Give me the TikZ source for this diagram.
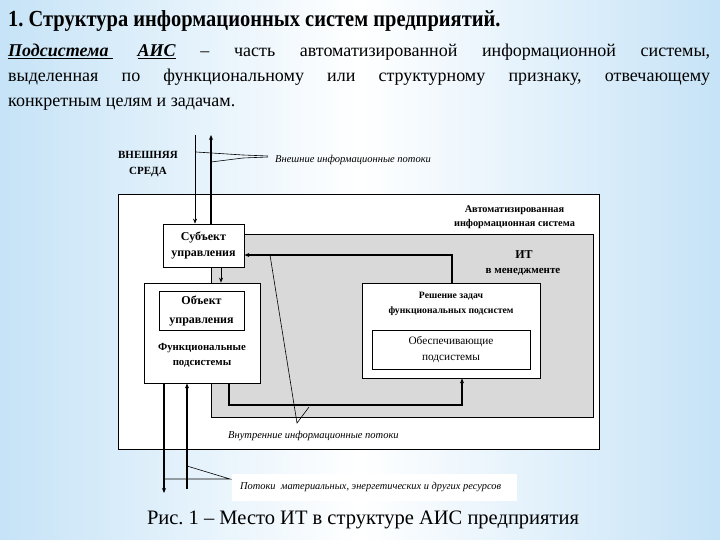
\documentclass[tikz,border=0pt]{standalone}
\usepackage{fontspec}
\usepackage{graphicx}
\setmainfont{Liberation Serif}
\usetikzlibrary{arrows.meta}
\frenchspacing

\definecolor{slideblue}{RGB}{198,227,247}

\begin{document}
\begin{tikzpicture}[
  x=1pt, y=-1pt,
  every node/.style={inner sep=0pt},
  blk/.style={draw, fill=white, line width=0.8pt},
  lbl/.style={font=\bfseries\fontsize{9.7}{15.5}\selectfont, align=center},
  flow/.style={font=\itshape\fontsize{10.5}{12}\selectfont, anchor=west},
  thk/.style={line width=2pt},
  thn/.style={line width=0.6pt},
  >={Stealth[length=5pt,width=4pt]}
]
  \shade[left color=slideblue, right color=slideblue, middle color=white] (0,0) rectangle (720,540);
  \useasboundingbox (0,0) rectangle (720,540);

  % heading and definition
  \node[anchor=west, font=\bfseries\fontsize{23}{26}\selectfont] (title) at (8,21)
    {\scalebox{0.89}[1]{1. Структура информационных систем предприятий.}};
  \node[anchor=north west, text width=702pt, align=justify, font=\fontsize{18}{25}\selectfont] (defn) at (8,44)
    {\underline{\textbf{\textit{Подсистема}}\ }\ \underline{\textbf{\textit{АИС}}} – часть автоматизированной информационной системы,\linebreak
     выделенная по функциональному или структурному признаку, отвечающему\linebreak
     конкретным целям и задачам.};

  % frames
  \node[draw, fill=white, thn, minimum width=481pt, minimum height=255pt] (ais) at (358.5,321.5) {};
  \node[draw, fill=black!15, thn, minimum width=382pt, minimum height=183pt] (it) at (402,325.5) {};
  \fill[white] (232,474) rectangle (517,501);

  \node[lbl, font=\bfseries\fontsize{10.3}{14}\selectfont] (aisl) at (514.5,217) {Автоматизированная\\информационная система};
  \node[lbl, font=\bfseries\fontsize{12}{14}\selectfont] (itl) at (524,255) {ИТ};
  \node[lbl, font=\bfseries\fontsize{11}{14}\selectfont] (itm) at (523,272) {в менеджменте};
  \node[lbl, font=\bfseries\fontsize{11}{16}\selectfont] (env) at (148,164) {ВНЕШНЯЯ\\СРЕДА};

  % boxes
  \node[blk, lbl, font=\bfseries\fontsize{12}{16}\selectfont, minimum width=81pt, minimum height=43pt] (subj) at (203.5,245.5) {Субъект\\управления};
  \node[blk, minimum width=116pt, minimum height=100pt] (func) at (202,333) {};
  \node[blk, lbl, font=\bfseries\fontsize{12}{19}\selectfont, minimum width=85pt, minimum height=39pt] (obj) at (201.5,310.5) {Объект\\управления};
  \node[lbl, font=\bfseries\fontsize{10.8}{15.5}\selectfont] (funcl) at (202,355.5) {Функциональные\\подсистемы};
  \node[blk, minimum width=178pt, minimum height=95pt] (task) at (451,330.5) {};
  \node[lbl] (taskl) at (451,304) {Решение задач\\функциональных подсистем};
  \node[blk, align=center, font=\fontsize{11.3}{16}\selectfont, minimum width=158pt, minimum height=39pt] (supp) at (451,349.5) {Обеспечивающие\\подсистемы};

  % flows
  \coordinate (k1) at (452,255);
  \coordinate (k2) at (229,405);
  \coordinate (k3) at (462,405);
  \coordinate (k4) at (221,275);
  \draw[thk,->] (k1 |- task.north) -- (k1) -- (subj.east |- k1);
  \draw[line width=1.4pt,->] (func.south -| k2) -- (k2) -- (k3) -- (k3 |- task.south);
  \draw[semithick,->] (subj.south -| k4) -- (func.north -| k4);

  \coordinate (t1) at (195,135);
  \coordinate (t2) at (211,135);
  \draw[thn,->] (t1) -- (t1 |- subj.north);
  \draw[thk,->] (t2 |- subj.north) -- (t2);
  \draw[thn] (196,152) -- (243,155) -- (268,156);
  \draw[thn] (211,162) -- (243,158) -- (268,157);
  \node[flow] (extl) at (275,160) {Внешние информационные потоки};

  \draw[thn] (270,255) -- (297,423) -- (309,407);
  \node[flow] (intl) at (228,436) {Внутренние информационные потоки};

  \coordinate (b1) at (164,493);
  \coordinate (b2) at (187,489);
  \draw[thk,->] (func.south -| b1) -- (b1);
  \draw[thk,->] (b2) -- (func.south -| b2);
  \draw[thn] (187,466) -- (230,479) -- (164,479);
  \node[flow, font=\itshape\fontsize{10.4}{12}\selectfont] (resl) at (240,487) {Потоки \ материальных, энергетических и других ресурсов};

  \node[font=\fontsize{20.5}{24}\selectfont] (cap) at (363,520) {Рис. 1 – Место ИТ в структуре АИС предприятия};
\end{tikzpicture}
\end{document}
